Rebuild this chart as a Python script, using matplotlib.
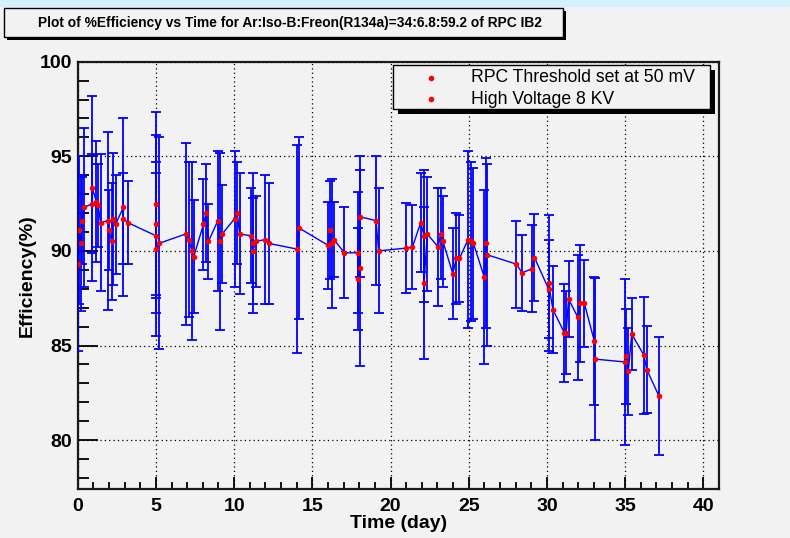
import matplotlib
matplotlib.use("Agg")
import matplotlib.pyplot as plt
from matplotlib.patches import Rectangle
from matplotlib.lines import Line2D
from matplotlib.ticker import MultipleLocator

# data (day, efficiency %, error)
days = [0.0, 0.1, 0.2, 0.3, 0.42,
        0.94, 0.94, 1.2, 1.31, 1.46,
        1.94, 2.0, 2.17, 2.25, 2.42,
        2.92, 2.92, 3.19,
        5.0, 5.0, 5.0, 5.0, 5.2,
        6.93, 7.1, 7.3, 7.42,
        8.04, 8.2, 8.36,
        8.96, 9.07, 9.24,
        10.03, 10.2, 10.35,
        11.06, 11.2, 11.2, 11.38,
        12.0, 12.2,
        14.0, 14.17,
        16.0, 16.14, 16.25, 16.38,
        17.05,
        17.9, 17.9, 18.07, 18.07,
        19.07, 19.24,
        21.02, 21.4,
        21.93, 22.14, 22.14, 22.35,
        23.05, 23.2, 23.35,
        23.98, 24.2, 24.4,
        24.96, 25.17, 25.3,
        26.0, 26.1, 26.16,
        28.05, 28.4, 29.05, 29.2,
        30.1, 30.1, 30.38,
        31.12, 31.23, 31.38,
        31.97, 32.14, 32.39,
        33.03, 33.1,
        34.98, 35.04, 35.2, 35.42,
        36.2, 36.38,
        37.16]

eff = [89.3, 91.1, 90.4, 91.6, 92.3,
       92.5, 93.3, 92.6, 92.4, 91.5,
       91.6, 91.1, 90.5, 91.7, 91.4,
       92.3, 91.7, 91.5,
       90.8, 92.5, 91.4, 90.1, 90.4,
       90.9, 90.6, 90.0, 89.7,
       91.4, 92.0, 90.5,
       91.6, 90.5, 90.9,
       91.7, 92.0, 90.9,
       90.8, 90.4, 90.0, 90.5,
       90.6, 90.4,
       90.1, 91.2,
       90.3, 91.1, 90.4, 90.6,
       89.9,
       89.9, 88.5, 89.1, 91.8,
       91.6, 90.0,
       90.15, 90.2,
       91.5, 90.8, 88.3, 90.9,
       90.2, 90.9, 90.5,
       88.8, 89.6, 89.6,
       90.6, 90.5, 90.4,
       88.6, 90.4, 89.8,
       89.3, 88.85, 89.05, 89.65,
       88.0, 88.3, 86.9,
       85.67, 85.67, 87.46,
       86.5, 87.23, 87.23,
       85.23, 84.28,
       84.13, 84.43, 83.64, 85.6,
       84.49, 83.73,
       82.33]

err = [4.6, 3.9, 3.6, 2.3, 4.2,
       2.6, 4.9, 3.2, 2.2, 3.6,
       4.7, 2.1, 3.1, 3.5, 2.6,
       4.7, 2.4, 2.2,
       3.3, 4.85, 4.7, 4.6, 5.6,
       4.8, 4.1, 4.7, 3.0,
       2.4, 2.6, 2.0,
       3.7, 4.7, 2.6,
       3.6, 2.7, 3.2,
       2.5, 3.7, 2.8, 2.4,
       3.4, 3.2,
       5.5, 4.8,
       2.3, 2.6, 3.4, 2.0,
       2.4,
       3.2, 2.7, 5.2, 3.2,
       3.4, 3.3,
       2.4, 2.2,
       2.6, 3.5, 4.0, 3.0,
       3.1, 2.4, 2.4,
       2.4, 2.4, 2.3,
       4.7, 4.2, 4.0,
       4.6, 4.5, 4.8,
       2.3, 2.0, 2.3, 2.3,
       2.6, 3.6, 2.3,
       2.6, 2.2, 2.0,
       3.3, 3.1, 2.3,
       3.4, 4.3,
       4.4, 2.5, 2.3, 1.9,
       3.1, 2.3,
       3.1]

title = "Plot of %Efficiency vs Time for Ar:Iso-B:Freon(R134a)=34:6.8:59.2 of RPC IB2"
legend_labels = ["RPC Threshold set at 50 mV", "High Voltage 8 KV"]

plt.rcParams['font.family'] = ['Liberation Sans', 'DejaVu Sans']
bg = "#f2f2f2"
W, H = 790, 538

fig = plt.figure(figsize=(7.9, 5.38), dpi=100, facecolor=bg)

def box(x0, y0, x1, y1, **kw):
    # pixel coords from top-left -> figure fraction
    return Rectangle((x0 / W, 1 - y1 / H), (x1 - x0) / W, (y1 - y0) / H,
                     transform=fig.transFigure, **kw)

# light blue strip at the very top
fig.add_artist(box(0, 0, W, 7, facecolor="#d3f1fb", edgecolor="none", zorder=0))

ax = fig.add_axes([77.7 / W, 1 - 489.3 / H, 641.3 / W, 427.6 / H])
ax.set_facecolor(bg)

ax.errorbar(days, eff, yerr=err, fmt="none", ecolor="#0000ff", elinewidth=1.3,
            capsize=3.5, capthick=1.3, zorder=3)
ax.plot(days, eff, color="#0000ff", lw=1, zorder=3)
ax.plot(days, eff, "o", color="#ff0000", ms=4, mew=0, zorder=4)

ax.set_xlim(0, 41)
ax.set_ylim(77.4, 100)
ax.xaxis.set_major_locator(MultipleLocator(5))
ax.xaxis.set_minor_locator(MultipleLocator(1))
ax.yaxis.set_major_locator(MultipleLocator(5))
ax.yaxis.set_minor_locator(MultipleLocator(1))
ax.tick_params(axis="x", which="major", direction="in", length=8.6, width=1.3, pad=6)
ax.tick_params(axis="x", which="minor", direction="in", length=5, width=1.3)
ax.tick_params(axis="y", which="major", direction="in", length=14.4, width=1.3, pad=4)
ax.tick_params(axis="y", which="minor", direction="in", length=7.7, width=1.3)
for lab in ax.get_xticklabels() + ax.get_yticklabels():
    lab.set_fontweight("bold")
    lab.set_fontsize(14)
ax.grid(True, which="major", color="black", linestyle=(0, (1, 2.5)), linewidth=0.9)
for sp in ax.spines.values():
    sp.set_linewidth(1.6)
    sp.set_color("#1a1a1a")

ax.set_xlabel("Time (day)", fontsize=14, fontweight="bold", labelpad=0)
ax.set_ylabel("Efficiency(%)", fontsize=14, fontweight="bold", labelpad=3)

# title box with shadow
fig.add_artist(box(7, 11, 566, 40, facecolor="black", edgecolor="none", zorder=2))
fig.add_artist(box(4, 8.3, 563, 37, facecolor=bg, edgecolor="black", lw=1, zorder=3))
fig.text(290 / W, 1 - 23 / H, title, ha="center", va="center",
         fontsize=9.9, fontweight="bold", zorder=4)

# legend box with shadow
fig.add_artist(box(398, 70, 715, 114, facecolor="black", edgecolor="none", zorder=2))
fig.add_artist(box(393, 65, 710, 109, facecolor=bg, edgecolor="black", lw=1, zorder=3))
for i, lab in enumerate(legend_labels):
    yc = 1 - (78 + 21 * i) / H
    fig.add_artist(Line2D([431 / W], [yc], marker="o", color="#ff0000", ms=4,
                          mew=0, ls="none", transform=fig.transFigure, zorder=4))
    fig.text(471 / W, yc, lab, ha="left", va="center", fontsize=12.7, zorder=4)

fig.savefig("out.png", dpi=100, facecolor=bg)
